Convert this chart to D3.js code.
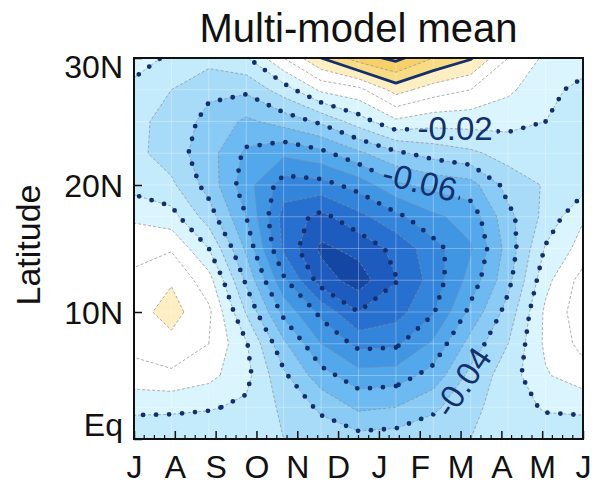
<!DOCTYPE html>
<html>
<head>
<meta charset="utf-8">
<script src="https://cdn.jsdelivr.net/npm/d3@7"></script>
<style>
  html, body { margin: 0; padding: 0; background: #fff; }
  svg { display: block; font-family: "Liberation Sans", Arial, Helvetica, sans-serif; }
</style>
</head>
<body>
<svg id="chart" width="592" height="484"></svg>
<script>
// Axis labels: months from July to June, latitude ticks
const monthLabels = ["J", "A", "S", "O", "N", "D", "J", "F", "M", "A", "M", "J"];
const latTicks = [0, 10, 20, 30];
const latTickLabels = ["Eq", "10N", "20N", "30N"];

// Grid latitudes (rows), north to south
const lats = [30, 27.5, 25, 22.5, 20, 17.5, 15, 12.5, 10, 7.5, 5, 2.5, 0];

// Monthly latitude profiles of the multi-model mean field (30N -> Eq)
const jul = [-0.015, -0.023, -0.027, -0.027, -0.024, -0.011, -0.006, 0.004, 0.006, 0.003, -0.004, -0.018, -0.026];
const aug = [-0.022, -0.030, -0.034, -0.035, -0.028, -0.016, -0.001, 0.009, 0.014, 0.007, -0.002, -0.018, -0.027];
const sep = [-0.026, -0.038, -0.043, -0.046, -0.044, -0.035, -0.020, -0.006, 0.002, 0.000, -0.007, -0.019, -0.028];
const oct = [-0.021, -0.038, -0.052, -0.062, -0.066, -0.060, -0.052, -0.042, -0.031, -0.019, -0.017, -0.022, -0.028];
const nov = [0.000, -0.025, -0.046, -0.068, -0.085, -0.094, -0.092, -0.078, -0.063, -0.048, -0.038, -0.032, -0.030];
const dec = [0.020, -0.008, -0.038, -0.063, -0.084, -0.103, -0.112, -0.105, -0.083, -0.070, -0.056, -0.042, -0.034];
const jan = [0.035, -0.003, -0.025, -0.052, -0.076, -0.093, -0.107, -0.115, -0.100, -0.083, -0.066, -0.052, -0.036];
const feb = [0.043, 0.014, -0.012, -0.042, -0.062, -0.083, -0.097, -0.1005, -0.094, -0.082, -0.065, -0.050, -0.035];
const mar = [0.030, 0.005, -0.016, -0.036, -0.057, -0.072, -0.084, -0.086, -0.081, -0.068, -0.056, -0.042, -0.033];
const apr = [0.021, 0.000, -0.016, -0.032, -0.054, -0.066, -0.071, -0.066, -0.057, -0.046, -0.037, -0.033, -0.030];
const may = [0.000, -0.008, -0.017, -0.026, -0.036, -0.043, -0.046, -0.043, -0.036, -0.030, -0.025, -0.024, -0.027];
const jun = [-0.012, -0.017, -0.020, -0.025, -0.029, -0.027, -0.019, -0.013, -0.008, -0.008, -0.011, -0.019, -0.025];

// Contour levels (every 0.01) and the fill colour of each band
const levels = d3.range(-11, 5).map(k => k / 100);          // -0.11 ... 0.04
const bandColors = [
  "#1446a4",  // < -0.11
  "#1d5bbf",  // -0.11 .. -0.10
  "#2770cf",  // -0.10 .. -0.09
  "#3384db",  // -0.09 .. -0.08
  "#4096e3",  // -0.08 .. -0.07
  "#52a8eb",  // -0.07 .. -0.06
  "#6cbaf1",  // -0.06 .. -0.05
  "#8acbf5",  // -0.05 .. -0.04
  "#a8dbf8",  // -0.04 .. -0.03
  "#c3ebfb",  // -0.03 .. -0.02
  "#daf5fd",  // -0.02 .. -0.01
  "#ffffff",  // -0.01 .. 0
  "#ffffff",  //  0 .. 0.01
  "#fdefc2",  //  0.01 .. 0.02
  "#f9db84",  //  0.02 .. 0.03
  "#f7d06a",  //  0.03 .. 0.04
  "#f4c658"   // > 0.04
];
const dottedLevels = [-0.10, -0.08, -0.06, -0.04, -0.02];
const solidLevels = [0.02, 0.04];

// Inline contour labels: level, position (month index, latitude), rotation
const contourLabels = [
  { level: -0.02, month: 8.58, lat: 24.5, angle: 0 },
  { level: -0.06, month: 7.64, lat: 20.3, angle: 14 },
  { level: -0.04, month: 8.77, lat: 4.5, angle: -56 }
];

const svg = d3.select("#chart");
const X0 = 134, X1 = 583, Y0 = 58, Y1 = 439;
const navy = "#13306e";

// Data scales: months 0 (Jul) .. 12 (next Jul); latitude 0 .. 30
const xs = d3.scaleLinear().domain([0, 12]).range([X0, X1]);
const ys = d3.scaleLinear().domain([0, 30]).range([Y1, Y0]);
// Month tick labels spread across the frame
const xl = d3.scaleLinear().domain([0, monthLabels.length - 1]).range([X0, X1]);

// Build a padded, periodic grid for the contouring
const profiles = [jul, aug, sep, oct, nov, dec, jan, feb, mar, apr, may, jun];
const nM = profiles.length, nL = lats.length;
const cols = d3.range(-1, nM + 2);     // month index -1 .. 13 (wraps around the year)
const rows = d3.range(-1, nL + 1);     // row -1 .. nL (edge rows repeated)
const gw = cols.length, gh = rows.length;
const values = new Array(gw * gh);
rows.forEach((r, j) => {
  const rr = Math.max(0, Math.min(nL - 1, r));
  cols.forEach((c, i) => {
    const cc = ((c % nM) + nM) % nM;
    values[j * gw + i] = profiles[cc][rr];
  });
});
const latOfRow = d3.scaleLinear().domain([0, nL - 1]).range([lats[0], lats[nL - 1]]);
const proj = d3.geoTransform({
  point(x, y) { this.stream.point(xs(x - 0.5 + cols[0]), ys(latOfRow(y - 0.5 + rows[0]))); }
});
const path = d3.geoPath(proj);
const contours = d3.contours().size([gw, gh]).thresholds(levels)(values);
const near = (a, b) => Math.abs(a - b) < 1e-6;

// Clip everything to the plotting frame
const defs = svg.append("defs");
defs.append("clipPath").attr("id", "plotclip")
  .append("rect").attr("x", X0).attr("y", Y0).attr("width", X1 - X0).attr("height", Y1 - Y0);

const fmt = d3.formatLocale({ decimal: ".", thousands: ",", grouping: [3], currency: ["", ""], minus: "-" }).format(".2f");

// Mask that opens gaps in the contour lines where labels sit
const mask = defs.append("mask").attr("id", "labelgap").attr("maskUnits", "userSpaceOnUse")
  .attr("x", 0).attr("y", 0).attr("width", 592).attr("height", 484);
mask.append("rect").attr("width", 592).attr("height", 484).attr("fill", "#fff");
contourLabels.forEach(l => {
  const w = fmt(l.level).length * 15 + 8;
  mask.append("rect")
    .attr("x", -w / 2).attr("y", -15).attr("width", w).attr("height", 30)
    .attr("fill", "#000")
    .attr("transform", `translate(${xs(l.month)},${ys(l.lat)}) rotate(${l.angle})`);
});

const plot = svg.append("g").attr("clip-path", "url(#plotclip)");

// Filled bands
plot.append("rect").attr("x", X0).attr("y", Y0).attr("width", X1 - X0).attr("height", Y1 - Y0)
  .attr("fill", bandColors[0]);
plot.append("g").selectAll("path").data(contours).join("path")
  .attr("d", path)
  .attr("fill", (d, i) => bandColors[i + 1]);

// Faint grid at the data resolution
const grid = plot.append("g").attr("stroke", "#fff").attr("stroke-opacity", 0.3).attr("stroke-width", 1);
grid.selectAll("line.v").data(d3.range(1, 12)).join("line").attr("class", "v")
  .attr("x1", d => xs(d)).attr("x2", d => xs(d)).attr("y1", Y0).attr("y2", Y1);
grid.selectAll("line.h").data(lats.slice(1, -1)).join("line").attr("class", "h")
  .attr("y1", d => ys(d)).attr("y2", d => ys(d)).attr("x1", X0).attr("x2", X1);

// Thin dashed isolines at every level
plot.append("g").selectAll("path").data(contours).join("path")
  .attr("d", path)
  .attr("fill", "none")
  .attr("stroke", "#8c8c8c")
  .attr("stroke-width", 0.7)
  .attr("stroke-dasharray", "3,2");

// Highlighted isolines: dotted for negative, solid for positive
const lineLayer = plot.append("g").attr("mask", "url(#labelgap)");
lineLayer.selectAll("path.neg")
  .data(contours.filter(c => dottedLevels.some(v => near(v, c.value))))
  .join("path").attr("class", "neg")
  .attr("d", path)
  .attr("fill", "none")
  .attr("stroke", navy)
  .attr("stroke-width", 4.8)
  .attr("stroke-linecap", "round")
  .attr("stroke-dasharray", "0,13");
lineLayer.selectAll("path.pos")
  .data(contours.filter(c => solidLevels.some(v => near(v, c.value))))
  .join("path").attr("class", "pos")
  .attr("d", path)
  .attr("fill", "none")
  .attr("stroke", navy)
  .attr("stroke-width", 2.8)
  .attr("stroke-linejoin", "round");

// Contour labels
plot.append("g").selectAll("text").data(contourLabels).join("text")
  .attr("transform", l => `translate(${xs(l.month)},${ys(l.lat)}) rotate(${l.angle})`)
  .attr("text-anchor", "middle")
  .attr("dy", "0.36em")
  .attr("font-size", 33)
  .attr("fill", navy)
  .text(l => fmt(l.level));

// Frame
svg.append("rect").attr("x", X0).attr("y", Y0).attr("width", X1 - X0).attr("height", Y1 - Y0)
  .attr("fill", "none").attr("stroke", "#111").attr("stroke-width", 2);

// Latitude axis (ticks point inward)
const yAxis = d3.axisLeft(ys).tickValues(latTicks)
  .tickFormat((d, i) => latTickLabels[i])
  .tickSizeInner(-8).tickSizeOuter(0).tickPadding(11);
const gy = svg.append("g").attr("transform", `translate(${X0},0)`).call(yAxis);
gy.select(".domain").remove();
gy.selectAll(".tick line").attr("stroke", "#111").attr("stroke-width", 1.5);
gy.selectAll(".tick text").attr("font-size", 32).attr("fill", "#111")
  .attr("font-family", "Liberation Sans, Arial, sans-serif")
  .attr("dy", d => d === 30 ? "0.6em" : d === 0 ? "-0.1em" : "0.35em");

// Month axis: labelled ticks plus quarter-month minor ticks, pointing inward
const minor = d3.range(0, monthLabels.length - 1 + 1e-9, 0.25).filter(v => Math.abs(v - Math.round(v)) > 1e-6);
const gxm = svg.append("g").attr("transform", `translate(0,${Y1})`);
gxm.selectAll("line.minor").data(minor).join("line").attr("class", "minor")
  .attr("x1", d => xl(d)).attr("x2", d => xl(d)).attr("y1", 0).attr("y2", -4)
  .attr("stroke", "#111").attr("stroke-width", 1.2);
const xAxis = d3.axisBottom(xl).tickValues(d3.range(monthLabels.length))
  .tickFormat(i => monthLabels[i]).tickSizeInner(-8).tickSizeOuter(0).tickPadding(16);
gxm.call(xAxis);
gxm.select(".domain").remove();
gxm.selectAll(".tick line").attr("stroke", "#111").attr("stroke-width", 1.5);
gxm.selectAll(".tick text").attr("font-size", 32).attr("fill", "#111")
  .attr("font-family", "Liberation Sans, Arial, sans-serif");

// Title and axis title
svg.append("text").attr("x", (X0 + X1) / 2).attr("y", 42).attr("text-anchor", "middle")
  .attr("font-size", 40).attr("fill", "#111").text("Multi-model mean");
svg.append("text").attr("transform", "translate(40,245) rotate(-90)").attr("text-anchor", "middle")
  .attr("font-size", 34).attr("fill", "#111").text("Latitude");
</script>
</body>
</html>
